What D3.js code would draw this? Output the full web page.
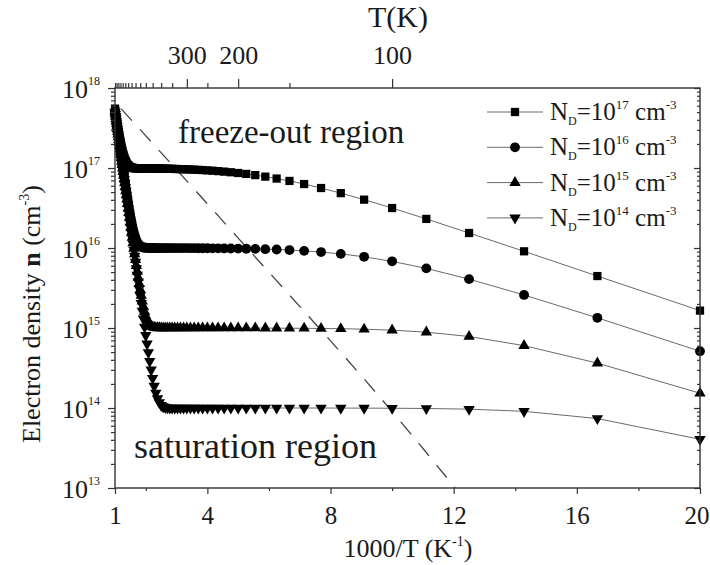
<!DOCTYPE html>
<html>
<head>
<meta charset="utf-8">
<script src="https://cdn.jsdelivr.net/npm/d3@7"></script>
<style>
  body { margin: 0; background: #fff; }
  text { font-family: "Liberation Serif", "Times New Roman", serif; fill: #1a1a1a; }
</style>
</head>
<body>
<svg id="chart" width="710" height="565"></svg>
<script>
// temperatures of the computed points (K), x axis is 1000/T
const temps = [1000, 990, 980, 970, 960, 950, 940, 930, 920, 910,
  900, 890, 880, 870, 860, 850, 840, 830, 820, 810,
  800, 790, 780, 770, 760, 750, 740, 730, 720, 710,
  700, 690, 680, 670, 660, 650, 640, 630, 620, 610,
  600, 590, 580, 570, 560, 550, 540, 530, 520, 510,
  500, 490, 480, 470, 460, 450, 440, 430, 420, 410,
  400, 390, 380, 370, 360, 350, 340, 330, 320, 310,
  300, 290, 280, 270, 260, 250, 240, 230, 220, 210,
  200, 190, 180, 170, 160, 150, 140, 130, 120, 110,
  100, 90, 80, 70, 60, 50];

// electron density (cm^-3) for each doping level, same order as temps
const nD1e17 = [5.53e17, 5.22e17, 4.91e17, 4.62e17, 4.35e17, 4.09e17, 3.84e17, 3.61e17, 3.39e17, 3.18e17,
  2.98e17, 2.80e17, 2.62e17, 2.46e17, 2.30e17, 2.16e17, 2.04e17, 1.91e17, 1.79e17, 1.69e17,
  1.60e17, 1.51e17, 1.44e17, 1.37e17, 1.31e17, 1.25e17, 1.21e17, 1.17e17, 1.13e17, 1.10e17,
  1.08e17, 1.06e17, 1.04e17, 1.03e17, 1.02e17, 1.01e17, 1.01e17, 1.00e17, 9.99e16, 9.96e16,
  9.94e16, 9.93e16, 9.92e16, 9.91e16, 9.91e16, 9.90e16, 9.90e16, 9.90e16, 9.90e16, 9.90e16,
  9.90e16, 9.90e16, 9.90e16, 9.89e16, 9.89e16, 9.88e16, 9.87e16, 9.86e16, 9.85e16, 9.84e16,
  9.84e16, 9.82e16, 9.81e16, 9.79e16, 9.78e16, 9.76e16, 9.73e16, 9.71e16, 9.68e16, 9.65e16,
  9.62e16, 9.58e16, 9.54e16, 9.48e16, 9.42e16, 9.34e16, 9.25e16, 9.14e16, 9.01e16, 8.85e16,
  8.66e16, 8.43e16, 8.15e16, 7.80e16, 7.38e16, 6.89e16, 6.30e16, 5.62e16, 4.85e16, 4.02e16,
  3.16e16, 2.31e16, 1.54e16, 9.09e15, 4.46e15, 1.65e15];

const nD1e16 = [5.06e17, 4.75e17, 4.44e17, 4.15e17, 3.87e17, 3.61e17, 3.36e17, 3.12e17, 2.90e17, 2.69e17,
  2.49e17, 2.30e17, 2.12e17, 1.95e17, 1.79e17, 1.64e17, 1.51e17, 1.38e17, 1.25e17, 1.14e17,
  1.04e17, 9.42e16, 8.55e16, 7.73e16, 6.97e16, 6.27e16, 5.64e16, 5.07e16, 4.54e16, 4.07e16,
  3.64e16, 3.26e16, 2.91e16, 2.61e16, 2.34e16, 2.10e16, 1.89e16, 1.72e16, 1.56e16, 1.43e16,
  1.33e16, 1.24e16, 1.18e16, 1.12e16, 1.09e16, 1.06e16, 1.04e16, 1.02e16, 1.015e16, 1.01e16,
  1.006e16, 1.003e16, 1.002e16, 1.001e16, 9.99e15, 9.99e15, 9.99e15, 9.98e15, 9.98e15, 9.98e15,
  9.98e15, 9.98e15, 9.98e15, 9.97e15, 9.97e15, 9.97e15, 9.97e15, 9.96e15, 9.96e15, 9.96e15,
  9.96e15, 9.95e15, 9.95e15, 9.94e15, 9.93e15, 9.93e15, 9.91e15, 9.90e15, 9.88e15, 9.86e15,
  9.83e15, 9.79e15, 9.75e15, 9.67e15, 9.58e15, 9.42e15, 9.21e15, 8.90e15, 8.44e15, 7.76e15,
  6.81e15, 5.56e15, 4.08e15, 2.59e15, 1.34e15, 5.13e14];

const nD1e15 = [5.02e17, 4.71e17, 4.40e17, 4.11e17, 3.83e17, 3.57e17, 3.32e17, 3.08e17, 2.86e17, 2.65e17,
  2.45e17, 2.26e17, 2.08e17, 1.91e17, 1.75e17, 1.60e17, 1.47e17, 1.34e17, 1.21e17, 1.10e17,
  9.94e16, 8.96e16, 8.08e16, 7.26e16, 6.50e16, 5.80e16, 5.17e16, 4.59e16, 4.06e16, 3.58e16,
  3.15e16, 2.76e16, 2.41e16, 2.10e16, 1.82e16, 1.57e16, 1.35e16, 1.16e16, 9.88e15, 8.41e15,
  7.13e15, 6.02e15, 5.08e15, 4.27e15, 3.59e15, 3.02e15, 2.55e15, 2.16e15, 1.85e15, 1.60e15,
  1.41e15, 1.27e15, 1.17e15, 1.10e15, 1.06e15, 1.03e15, 1.016e15, 1.008e15, 1.004e15, 1.002e15,
  1.001e15, 1.00e15, 1.00e15, 1.00e15, 1.00e15, 1.00e15, 1.00e15, 1.00e15, 1.00e15, 1.00e15,
  1.00e15, 1.00e15, 1.00e15, 1.00e15, 1.00e15, 9.99e14, 9.99e14, 9.99e14, 9.99e14, 9.99e14,
  9.98e14, 9.98e14, 9.98e14, 9.96e14, 9.95e14, 9.94e14, 9.91e14, 9.87e14, 9.80e14, 9.66e14,
  9.39e14, 8.87e14, 7.83e14, 6.02e14, 3.64e14, 1.53e14];

const nD1e14 = [5.01e17, 4.70e17, 4.39e17, 4.10e17, 3.82e17, 3.56e17, 3.31e17, 3.07e17, 2.85e17, 2.64e17,
  2.44e17, 2.25e17, 2.07e17, 1.90e17, 1.74e17, 1.59e17, 1.46e17, 1.33e17, 1.20e17, 1.09e17,
  9.90e16, 8.92e16, 8.04e16, 7.22e16, 6.46e16, 5.76e16, 5.13e16, 4.55e16, 4.02e16, 3.54e16,
  3.11e16, 2.72e16, 2.37e16, 2.06e16, 1.78e16, 1.53e16, 1.31e16, 1.12e16, 9.42e15, 7.94e15,
  6.66e15, 5.55e15, 4.60e15, 3.79e15, 3.10e15, 2.52e15, 2.04e15, 1.63e15, 1.30e15, 1.03e15,
  8.10e14, 6.34e14, 4.95e14, 3.85e14, 3.00e14, 2.36e14, 1.88e14, 1.54e14, 1.31e14, 1.17e14,
  1.08e14, 1.04e14, 1.02e14, 1.006e14, 1.002e14, 1.001e14, 1.00e14, 1.00e14, 1.00e14, 1.00e14,
  1.00e14, 1.00e14, 1.00e14, 1.00e14, 1.00e14, 1.00e14, 1.00e14, 1.00e14, 1.00e14, 1.00e14,
  1.00e14, 1.00e14, 1.00e14, 1.00e14, 1.00e14, 1.00e14, 1.00e14, 9.99e13, 9.98e13, 9.96e13,
  9.93e13, 9.86e13, 9.67e13, 9.09e13, 7.38e13, 4.06e13];

const seriesValues = [nD1e17, nD1e16, nD1e15, nD1e14];
const seriesExponents = ["17", "16", "15", "14"];

// dashed boundary between the two regions: 1000/T and n
const dashX = [1.2, 4.95, 10.56, 12.05];
const dashN = [5.5e17, 1.4e16, 5.0e13, 1e13];

const bottomTicks = [1, 4, 8, 12, 16, 20];
const bottomMinor = [2, 6, 10, 14, 18];
const topTicksK = [300, 200, 100];
const topMinorK = [1000, 950, 900, 850, 800, 750, 700, 650, 600, 550, 500, 450, 400, 350, 250, 150];
const yExponents = [13, 14, 15, 16, 17, 18];

const svg = d3.select("#chart");
const plot = { left: 115, right: 700, top: 88, bottom: 488 };

const x = d3.scaleLinear().domain([1, 20]).range([plot.left, plot.right]);
const y = d3.scaleLog().domain([1e13, 1e18]).range([plot.bottom, plot.top]);

const symbols = [
  { type: d3.symbolSquare, size: 68, rot: 0 },
  { type: d3.symbolCircle, size: 76, rot: 0 },
  { type: d3.symbolTriangle, size: 56, rot: 0 },
  { type: d3.symbolTriangle, size: 56, rot: 180 }
];

// dashed line
svg.append("path")
  .datum(dashX.map((v, i) => [v, dashN[i]]))
  .attr("fill", "none")
  .attr("stroke", "#444")
  .attr("stroke-width", 1.3)
  .attr("stroke-dasharray", "16 12")
  .attr("d", d3.line().x(d => x(d[0])).y(d => y(d[1])).curve(d3.curveMonotoneX));

const line = d3.line()
  .x(d => x(1000 / d.t))
  .y(d => y(d.n));

seriesValues.forEach((vals, s) => {
  const pts = temps.map((t, i) => ({ t, n: vals[i] }));
  svg.append("path")
    .datum(pts)
    .attr("fill", "none")
    .attr("stroke", "#6a6a6a")
    .attr("stroke-width", 1)
    .attr("d", line);

  const sym = d3.symbol().type(symbols[s].type).size(symbols[s].size);
  svg.append("g").selectAll("path")
    .data(pts)
    .join("path")
    .attr("d", sym)
    .attr("fill", "#000")
    .attr("transform", d => `translate(${x(1000 / d.t)},${y(d.n)}) rotate(${symbols[s].rot})`);
});

// frame
svg.append("rect")
  .attr("x", x(1)).attr("y", y(1e18))
  .attr("width", x(20) - x(1)).attr("height", y(1e13) - y(1e18))
  .attr("fill", "none").attr("stroke", "#333").attr("stroke-width", 1.4);

const styleAxis = (g, size) => {
  g.select(".domain").remove();
  g.selectAll(".tick line").attr("stroke", "#333").attr("stroke-width", 1.2);
  g.selectAll(".tick text").attr("fill", "#1a1a1a").style("font-size", size || "25px")
    .style("font-family", '"Liberation Serif", "Times New Roman", serif');
};

// bottom axis
const bottomAxis = svg.append("g")
  .attr("transform", `translate(0,${y(1e13)})`)
  .call(d3.axisBottom(x).tickValues(bottomTicks).tickSize(6).tickPadding(12).tickFormat(d3.format("d")))
  .call(g => styleAxis(g, "25px"));
// last label sits on the right edge, as in the original
bottomAxis.selectAll(".tick text").filter(d => d === 20).attr("text-anchor", "end").attr("dx", 9);
svg.append("g")
  .attr("transform", `translate(0,${y(1e13)})`)
  .call(d3.axisBottom(x).tickValues(bottomMinor).tickSize(3).tickFormat(""))
  .call(styleAxis);

// top axis, temperature in K
svg.append("g")
  .attr("transform", `translate(0,${y(1e18)})`)
  .call(d3.axisTop(x).tickValues(topTicksK.map(t => 1000 / t)).tickSize(9).tickPadding(15)
    .tickFormat(v => Math.round(1000 / v)))
  .call(g => styleAxis(g, "26px"));
svg.append("g")
  .attr("transform", `translate(0,${y(1e18)})`)
  .call(d3.axisTop(x).tickValues(topMinorK.map(t => 1000 / t)).tickSize(5).tickFormat(""))
  .call(styleAxis);

// left axis, log
const yMinor = [];
yExponents.slice(0, -1).forEach(e => { for (let k = 2; k <= 9; k++) yMinor.push(k * Math.pow(10, e)); });
const yMajor = yExponents.map(e => Math.pow(10, e));

const leftAxis = svg.append("g")
  .attr("transform", `translate(${x(1)},0)`)
  .call(d3.axisLeft(y).tickValues(yMajor).tickSize(7).tickFormat(""))
  .call(styleAxis);
svg.append("g")
  .attr("transform", `translate(${x(1)},0)`)
  .call(d3.axisLeft(y).tickValues(yMinor).tickSize(4).tickFormat(""))
  .call(styleAxis);

leftAxis.selectAll(".tick").each(function (d) {
  const t = d3.select(this).append("text")
    .attr("x", -15).attr("y", 9)
    .attr("text-anchor", "end")
    .style("font-size", "26px");
  t.append("tspan").text("10");
  t.append("tspan").attr("dy", -13).style("font-size", "12px").text(Math.round(Math.log10(d)));
});

// right axis
svg.append("g")
  .attr("transform", `translate(${x(20)},0)`)
  .call(d3.axisLeft(y).tickValues(yMajor).tickSize(6).tickFormat(""))
  .call(styleAxis);
svg.append("g")
  .attr("transform", `translate(${x(20)},0)`)
  .call(d3.axisLeft(y).tickValues(yMinor).tickSize(3).tickFormat(""))
  .call(styleAxis);

// axis titles
svg.append("text")
  .attr("x", 398).attr("y", 27)
  .attr("text-anchor", "middle")
  .style("font-size", "30px")
  .text("T(K)");

const xTitle = svg.append("text")
  .attr("x", 408).attr("y", 557)
  .attr("text-anchor", "middle")
  .style("font-size", "26px");
xTitle.append("tspan").text("1000/T (K");
xTitle.append("tspan").attr("dy", -11).style("font-size", "14px").text("-1");
xTitle.append("tspan").attr("dy", 11).text(")");

const yTitle = svg.append("text")
  .attr("transform", "translate(40,443) rotate(-90)")
  .attr("text-anchor", "start")
  .style("font-size", "26px");
yTitle.append("tspan").text("Electron density  ");
yTitle.append("tspan").style("font-weight", "bold").text("n");
yTitle.append("tspan").text(" (cm");
yTitle.append("tspan").attr("dy", -11).style("font-size", "14px").text("-3");
yTitle.append("tspan").attr("dy", 11).text(")");

// region labels
svg.append("text")
  .attr("x", 178).attr("y", 143)
  .style("font-size", "33px")
  .text("freeze-out region");
svg.append("text")
  .attr("x", 134).attr("y", 458)
  .style("font-size", "36px")
  .text("saturation region");

// legend
const legend = svg.append("g");
seriesExponents.forEach((ex, i) => {
  const ly = 112 + i * 35.3;
  legend.append("line")
    .attr("x1", 487).attr("x2", 543).attr("y1", ly).attr("y2", ly)
    .attr("stroke", "#6a6a6a").attr("stroke-width", 1);
  legend.append("path")
    .attr("d", d3.symbol().type(symbols[i].type).size(symbols[i].size)())
    .attr("transform", `translate(515,${ly}) rotate(${symbols[i].rot})`)
    .attr("fill", "#000");
  const t = legend.append("text")
    .attr("x", 550).attr("y", ly + 8)
    .style("font-size", "25px");
  t.append("tspan").text("N");
  t.append("tspan").attr("dy", 5).style("font-size", "12px").text("D");
  t.append("tspan").attr("dy", -5).text("=10");
  t.append("tspan").attr("dy", -11).style("font-size", "13px").text(ex);
  t.append("tspan").attr("dy", 11).text(" cm");
  t.append("tspan").attr("dy", -11).style("font-size", "13px").text("-3");
});
</script>
</body>
</html>
